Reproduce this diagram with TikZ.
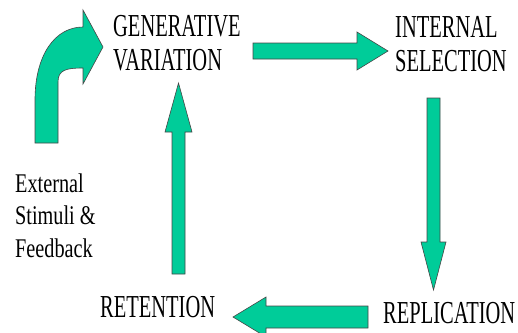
\documentclass[tikz,border=0pt]{standalone}
\usepackage{fontspec}
\setmainfont{Liberation Serif}
\newfontfamily\capfont{Liberation Serif}[FakeStretch=0.64]
\newfontfamily\lowfont{Liberation Serif}[FakeStretch=0.75]
\definecolor{arrowgreen}{RGB}{0,204,153}
\definecolor{arrowedge}{RGB}{70,70,70}
\begin{document}
\begin{tikzpicture}[x=1pt,y=-1pt,
  blockarrow/.style={fill=arrowgreen,draw=arrowedge,line width=0.6pt,line join=miter},
  caplabel/.style={anchor=base west,inner sep=0pt,align=left,font=\capfont\fontsize{32}{33.5}\selectfont},
  lowlabel/.style={anchor=base west,inner sep=0pt,align=left,font=\lowfont\fontsize{27}{32.5}\selectfont}]
\useasboundingbox (0,0) rectangle (518,332);
\clip (0,0) rectangle (518,332);
% labels (anchor = baseline of last line)
\node[caplabel] (gen) at (113,70) {GENERATIVE\\VARIATION};
\node[caplabel] (sel) at (395,71) {INTERNAL\\SELECTION};
\node[caplabel] (ret) at (100,317) {RETENTION};
\node[caplabel] (rep) at (383,323) {REPLICATION};
\node[lowlabel] (ext) at (15,257) {External\\Stimuli \&\\Feedback};
% curved input arrow
\draw[blockarrow] (35,143) -- (35,100) .. controls (35,55) and (55,27) .. (83,27)
  -- (83,10) -- (103,47) -- (83,84) -- (83,68)
  .. controls (66,68) and (58,70) .. (58,82) -- (58,143) -- cycle;
% right arrow
\draw[blockarrow] (253,43) -- (357,43) -- (357,32) -- (388,51) -- (357,70) -- (357,59) -- (253,59) -- cycle;
% down arrow
\draw[blockarrow] (427,98) -- (440,98) -- (440,242) -- (446,242) -- (433.5,290) -- (421,242) -- (427,242) -- cycle;
% left arrow
\draw[blockarrow] (368,306) -- (266,306) -- (266,297) -- (233,317) -- (266,337) -- (266,328) -- (368,328) -- cycle;
% up arrow
\draw[blockarrow] (172,274) -- (172,132) -- (165,132) -- (178.5,83) -- (192,132) -- (185,132) -- (185,274) -- cycle;
\end{tikzpicture}
\end{document}
